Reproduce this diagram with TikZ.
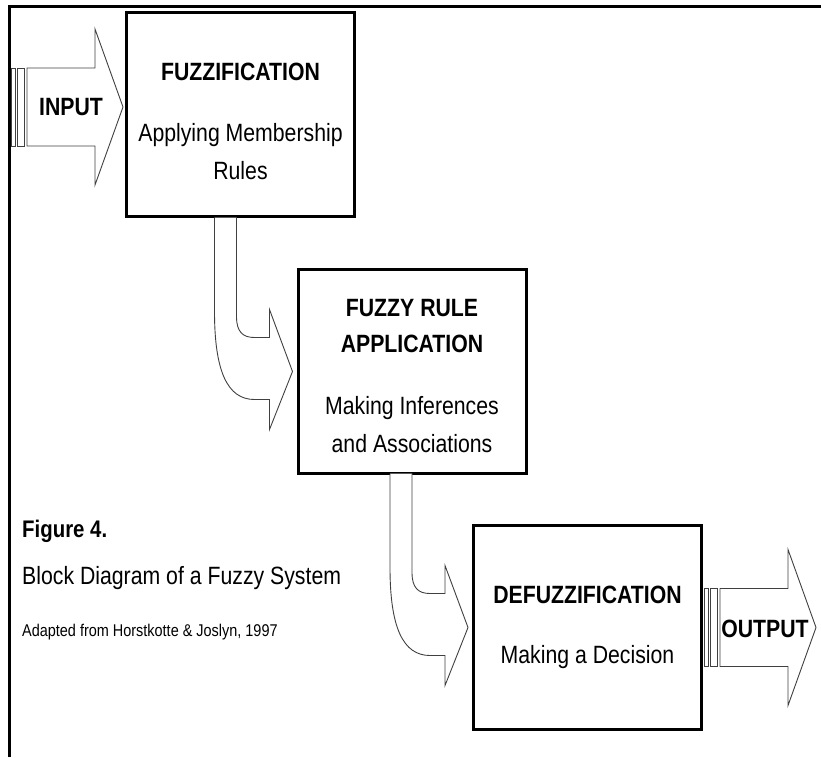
\documentclass[tikz,border=0pt]{standalone}
\usepackage{fontspec}
\setmainfont{Liberation Sans}[FakeStretch=0.85]
\usetikzlibrary{calc}

\tikzset{
  block/.style={draw,line width=3pt,minimum width=228pt,minimum height=204pt,inner sep=0pt},
  boxtitle/.style={font=\fontsize{25}{30}\selectfont\bfseries,inner sep=0pt,text height=18pt,text depth=0pt},
  boxtext/.style={font=\fontsize{25}{30}\selectfont,inner sep=0pt,text height=18pt,text depth=0pt},
  fatarrow/.style={draw=black!75,line width=0.9pt,fill=white},
}

\begin{document}
\begin{tikzpicture}[x=1pt,y=-1pt]
\useasboundingbox (0,0) rectangle (821,757);
% frame
\draw [line width=3pt] (9,757) -- (9,7) -- (821,7);
% blocks
\node [block] (fuzz) at (240.5,114.5) {};
\node [block] (rule) at (412,371.5) {};
\node [block] (defuzz) at (587.5,627.5) {};
\node [boxtitle] (fuzzt) at ($(fuzz.north)+(0,61)$) {FUZZIFICATION};
\node [boxtext] (fuzza) at ($(fuzz.north)+(0,122)$) {Applying Membership};
\node [boxtext] (fuzzb) at ($(fuzz.north)+(0,159)$) {Rules};
\node [boxtitle] (rulet) at ($(rule.north)+(0,39)$) {FUZZY RULE};
\node [boxtitle] (ruleu) at ($(rule.north)+(0,75)$) {APPLICATION};
\node [boxtext] (rulea) at ($(rule.north)+(0,137)$) {Making Inferences};
\node [boxtext] (ruleb) at ($(rule.north)+(0,175)$) {and Associations};
\node [boxtitle] (defuzzt) at ($(defuzz.north)+(0,70)$) {DEFUZZIFICATION};
\node [boxtext] (defuzza) at ($(defuzz.north)+(0,130)$) {Making a Decision};
% bent arrows between the blocks
\foreach \s/\t in {fuzz/rule, rule/defuzz} {
  \begin{scope}[shift={($(\t.west)+(-4,0)$)}]
    \draw [fatarrow] (-78,-154) -- (-78,-60) .. controls (-78,0) and (-65,28) .. (-38,28)
      -- (-23,28) -- (-23,58) -- (0,0) -- (-23,-62) -- (-23,-34) -- (-38,-34)
      .. controls (-50,-34) and (-56,-40) .. (-56,-55) -- (-56,-154);
  \end{scope}
}
% input arrow
\coordinate (in) at (11,107);
\begin{scope}[shift={(in)}]
  \draw [fatarrow] (0,-39) rectangle (4,39);
  \draw [fatarrow] (6,-39) rectangle (13,39);
  \draw [fatarrow] (16,-39) -- (84,-39) -- (84,-78) -- (112,0) -- (84,78) -- (84,39) -- (16,39) -- cycle;
\end{scope}
\node [boxtitle] (input) at ($(in)+(60,0)$) {INPUT};
% output arrow
\coordinate (out) at ($(defuzz.east)+(1,0)$);
\begin{scope}[shift={(out)}]
  \draw [fatarrow] (0,-39) rectangle (4,39);
  \draw [fatarrow] (6,-39) rectangle (13,39);
  \draw [fatarrow] (16,-39) -- (84,-39) -- (84,-78) -- (112,0) -- (84,78) -- (84,39) -- (16,39) -- cycle;
\end{scope}
\node [boxtitle] (output) at ($(out)+(61,1)$) {OUTPUT};
% caption
\node [boxtitle,font=\fontsize{24}{28}\selectfont\bfseries,anchor=west] (figno) at (22,528) {Figure 4.};
\node [boxtext,anchor=west] (figcap) at (22,575) {Block Diagram of a Fuzzy System};
\node [boxtext,font=\fontsize{17}{20}\selectfont,text height=12pt,anchor=west] (figsrc) at (22,630) {Adapted from Horstkotte \& Joslyn, 1997};
\end{tikzpicture}
\end{document}
